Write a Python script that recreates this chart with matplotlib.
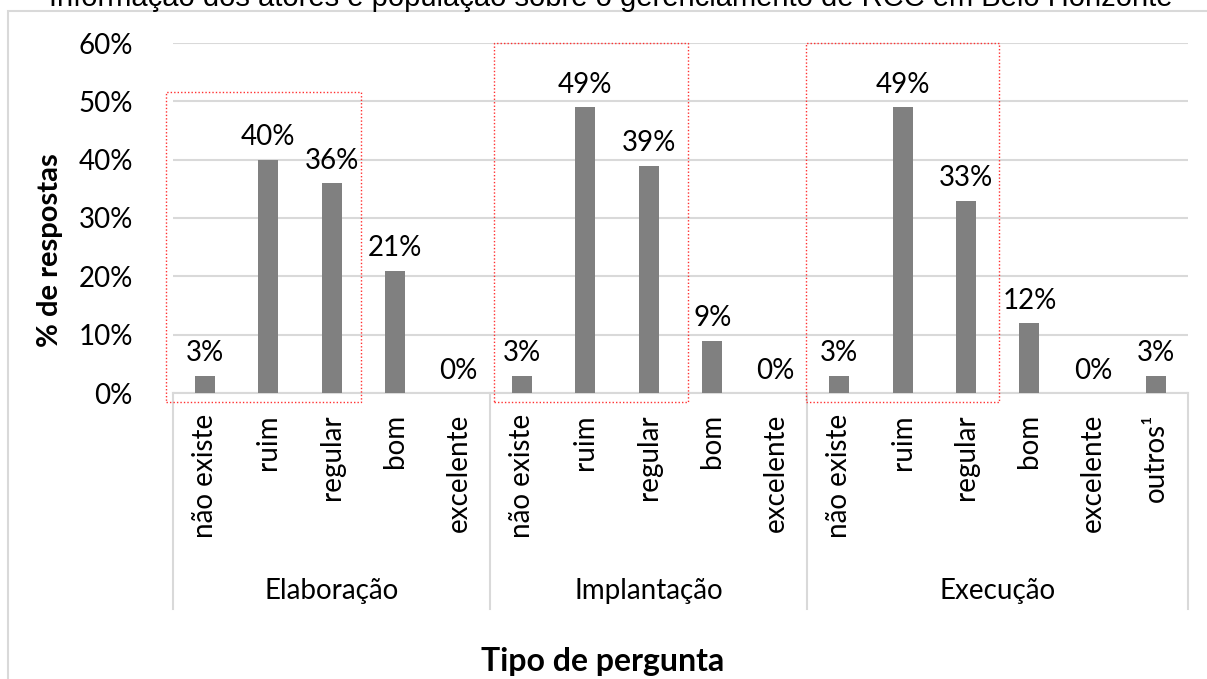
import matplotlib.pyplot as plt
from matplotlib.patches import Rectangle
from matplotlib.ticker import PercentFormatter

plt.rcParams['font.family'] = ['Lato', 'DejaVu Sans']

groups = ['Elaboração', 'Implantação', 'Execução']
cats_elab = ['não existe', 'ruim', 'regular', 'bom', 'excelente']
cats_impl = ['não existe', 'ruim', 'regular', 'bom', 'excelente']
cats_exec = ['não existe', 'ruim', 'regular', 'bom', 'excelente', 'outros¹']
vals_elab = [3, 40, 36, 21, 0]
vals_impl = [3, 49, 39, 9, 0]
vals_exec = [3, 49, 33, 12, 0, 3]
yticks = [0, 10, 20, 30, 40, 50, 60]

W, H = 1207, 679
fs = 20
fig = plt.figure(figsize=(W / 100, H / 100), dpi=100)
ax = fig.add_axes([173 / W, (H - 393) / H, (1188 - 173) / W, (393 - 43) / H])

labels = cats_elab + cats_impl + cats_exec
vals = vals_elab + vals_impl + vals_exec
sizes = [len(cats_elab), len(cats_impl), len(cats_exec)]
x = list(range(len(vals)))

ax.bar(x, vals, width=0.315, color='#808080', zorder=3)
for xi, v in zip(x, vals):
    ax.text(xi, v + 1.6, f'{v}%', ha='center', va='bottom', fontsize=fs, color='black')

ax.set_xlim(-0.5, len(vals) - 0.5)
ax.set_ylim(0, 60)
ax.set_yticks(yticks)
ax.yaxis.set_major_formatter(PercentFormatter(decimals=0))
ax.tick_params(axis='y', length=0, labelsize=fs, pad=29)
ax.set_xticks([])
ax.grid(axis='y', color='#d9d9d9', linewidth=1.5, zorder=0)
for s in ['top', 'right', 'left']:
    ax.spines[s].set_visible(False)
ax.spines['bottom'].set_color('#d9d9d9')
ax.spines['bottom'].set_linewidth(1.5)

fig.text(50 / W, 1 - 250 / H, '% de respostas', rotation=90, ha='center', va='center',
         fontsize=21, fontweight='bold')

# category labels, rotated
xt = ax.get_xaxis_transform()
for xi, lab in zip(x, labels):
    ax.text(xi, -0.06, lab, rotation=90, ha='center', va='top', fontsize=fs, transform=xt)

# group dividers and group labels
start = 0
edges = [-0.5]
for g, n in zip(groups, sizes):
    ax.text(start + (n - 1) / 2, -0.565, g, ha='center', va='center', fontsize=fs, transform=xt)
    start += n
    edges.append(start - 0.5)
for e in edges:
    ax.plot([e, e], [0, -0.616], color='#d9d9d9', linewidth=1.5, transform=xt, clip_on=False)

fig.text(603 / W, 1 - 662 / H, 'Tipo de pergunta', ha='center', va='center', fontsize=23,
         fontweight='bold')

# red dotted highlight boxes
boxes = [(-0.61, 2.47, 51.6), (4.56, 7.62, 60), (9.48, 12.52, 60)]
for x0, x1, top in boxes:
    ax.add_patch(Rectangle((x0, -1.5), x1 - x0, top + 1.5, fill=False, edgecolor='#ff3030',
                           linestyle=(0, (1, 1.5)), linewidth=1.0, clip_on=False, zorder=4))

# chart area border
fig.add_artist(Rectangle((7.5 / W, -0.1), 1.2, 1.1 - 11 / H, transform=fig.transFigure,
                         fill=False, edgecolor='#d9d9d9', linewidth=1.5))

fig.text(611 / W, 1 - 5.5 / H, 'Informação dos atores e população sobre o gerenciamento de RCC em Belo Horizonte',
         ha='center', va='baseline', fontsize=21, family=['Liberation Sans Narrow', 'Liberation Sans'])

fig.savefig('out.png', dpi=100)
